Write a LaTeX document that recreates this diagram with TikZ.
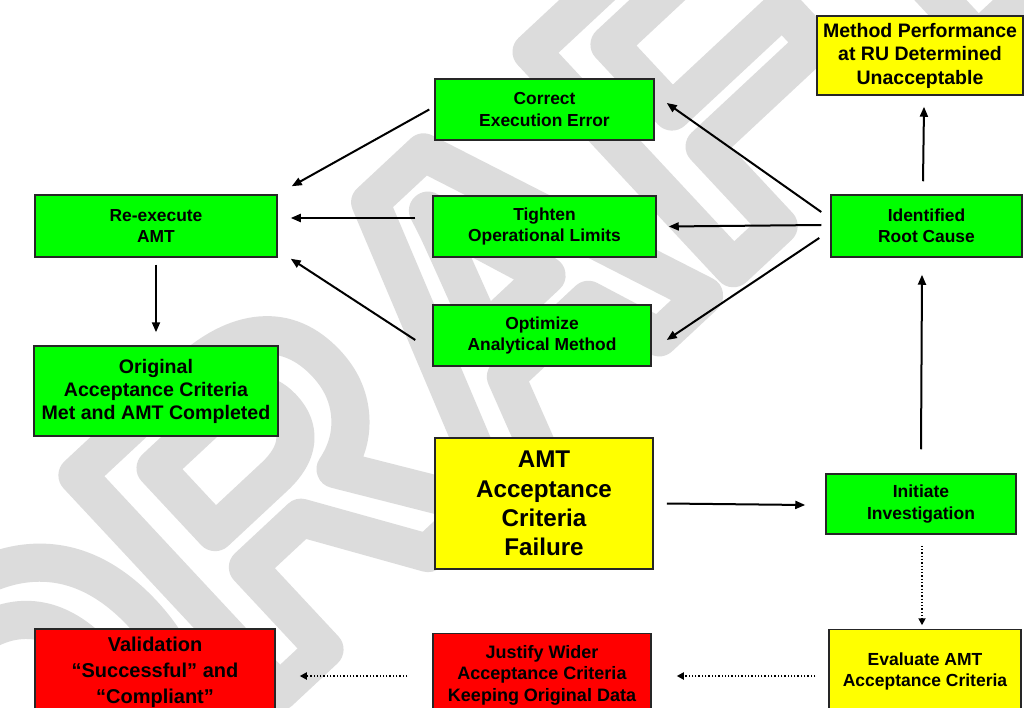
\documentclass[tikz,border=0pt]{standalone}
\usepackage{fontspec}
\setmainfont{Liberation Sans}
\usetikzlibrary{arrows.meta,calc}
\definecolor{boxgreen}{RGB}{0,255,0}
\definecolor{boxyellow}{RGB}{255,255,0}
\definecolor{boxred}{RGB}{255,0,0}
\definecolor{wmgray}{RGB}{220,220,220}
\newcommand{\fsz}[2]{\fontsize{#1}{#2}\selectfont\bfseries}
\begin{document}
\begin{tikzpicture}[x=1pt,y=-1pt,
  box/.style={draw=black!85, line width=1.5pt, inner sep=0pt, align=center, text=black},
  arr/.style={draw=black, line width=2pt, -{Triangle[length=10pt,width=8pt]}},
  dotarr/.style={draw=black, line width=2pt, dash pattern=on 1.3pt off 2pt, -{Triangle[length=7pt,width=7pt]}}]
\useasboundingbox (0,0) rectangle (1024,708);
\clip (0,0) rectangle (1024,708);
\fill[white] (0,0) rectangle (1024,708);
% watermark
\node[rotate=43, text=wmgray, font=\fontsize{430}{430}\selectfont\bfseries, inner sep=0pt] (wm) at (463,318)
  {\special{pdf:literal direct 1 Tr 38 w 1 j 1 J}DRAFT\special{pdf:literal direct 0 Tr}};
% boxes
\node[box, fill=boxyellow, minimum width=206pt, minimum height=79pt, font=\fsz{19.5}{23.5}] (method) at (920,55.5)
  {Method Performance\\at RU Determined\\Unacceptable};
\node[box, fill=boxgreen, minimum width=219pt, minimum height=61pt, font=\fsz{17.4}{21.5}] (correct) at (544.5,109.5)
  {Correct\\Execution Error};
\node[box, fill=boxgreen, minimum width=223pt, minimum height=61pt, font=\fsz{17.4}{21.5}] (tighten) at (544.5,226.5)
  {Tighten\\Operational Limits};
\node[box, fill=boxgreen, minimum width=218pt, minimum height=61pt, font=\fsz{17.4}{21.5}] (optimize) at (542,335.5)
  {Optimize\\Analytical Method};
\node[box, fill=boxgreen, minimum width=242pt, minimum height=62pt, font=\fsz{17.4}{21.5}] (reexec) at (156,226)
  {Re-execute\\AMT};
\node[box, fill=boxgreen, minimum width=244pt, minimum height=90pt, font=\fsz{19.6}{23}] (original) at (156,391)
  {Original\\Acceptance Criteria\\Met and AMT Completed};
\node[box, fill=boxgreen, minimum width=191pt, minimum height=62pt, font=\fsz{17.4}{21.5}] (identified) at (926.5,226)
  {Identified\\Root Cause};
\node[box, fill=boxyellow, minimum width=218pt, minimum height=131pt, font=\fsz{24.2}{29.3}] (amt) at (544,503.5)
  {AMT\\Acceptance\\Criteria\\Failure};
\node[box, fill=boxgreen, minimum width=190pt, minimum height=60pt, font=\fsz{17.5}{22}] (initiate) at (921,504)
  {Initiate\\Investigation};
\node[box, fill=boxyellow, minimum width=192pt, minimum height=83pt, font=\fsz{17.5}{21}] (evaluate) at (925,671)
  {Evaluate AMT\\Acceptance Criteria};
\node[box, fill=boxred, minimum width=218pt, minimum height=83pt, font=\fsz{18}{21.5}] (justify) at (542,675)
  {Justify Wider\\Acceptance Criteria\\Keeping Original Data};
\node[box, fill=boxred, minimum width=240pt, minimum height=86pt, font=\fsz{20}{26}] (validation) at (155,672)
  {Validation\\“Successful” and\\“Compliant”};
% solid arrows
\draw[arr] ($(correct.west)+(-5,0)$) -- ($(reexec.north east)+(14,-8)$);
\draw[arr] ($(tighten.west)+(-17,-8.5)$) -- ($(reexec.east)+(13,-8)$);
\draw[arr] ($(optimize.west)+(-17,4.5)$) -- ($(reexec.south east)+(13,1)$);
\draw[arr] ($(identified.west)+(-9,-14)$) -- ($(correct.east)+(12,-6.5)$);
\draw[arr] ($(identified.west)+(-9,-1)$) -- ($(tighten.east)+(12,0)$);
\draw[arr] ($(identified.west)+(-11,12)$) -- ($(optimize.east)+(15,4.5)$);
\draw[arr] ($(identified.north)+(-3.5,-13)$) -- ($(method.south)+(4,11)$);
\draw[arr] ($(initiate.north)+(0,-24)$) -- ($(identified.south)+(-4.5,17)$);
\draw[arr] ($(reexec.south)+(0,7)$) -- ($(original.north)+(0,-13)$);
\draw[arr] ($(amt.east)+(13,0)$) -- ($(initiate.west)+(-20,1)$);
% dotted arrows
\draw[dotarr] ($(initiate.south)+(1,11)$) -- ($(evaluate.north)+(-3,-3.5)$);
\draw[dotarr] ($(evaluate.west)+(-13,5)$) -- ($(justify.east)+(25,1)$);
\draw[dotarr] ($(justify.west)+(-25,1)$) -- ($(validation.east)+(24,4)$);
\end{tikzpicture}
\end{document}
